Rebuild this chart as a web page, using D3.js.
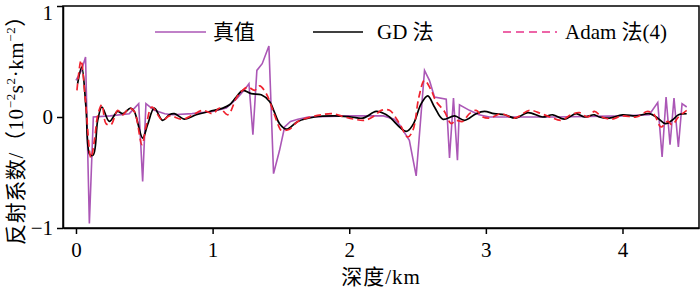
<!DOCTYPE html>
<html>
<head>
<meta charset="utf-8">
<script src="https://cdn.jsdelivr.net/npm/d3@7"></script>
<style>
  body { margin: 0; background: #fff; }
  svg text { font-family: "Liberation Serif", "Noto Sans CJK SC", serif; }
</style>
</head>
<body>
<div id="chart"></div>
<script>
// ---- data (depth in km, reflectivity) ----
const trueDepth = [0.0, 0.04, 0.07, 0.098, 0.127, 0.25, 0.39, 0.459, 0.488, 0.512, 0.573, 0.65, 0.707,
    0.85, 1.0, 1.1, 1.18, 1.23, 1.266, 1.295, 1.324, 1.363, 1.412, 1.446, 1.49, 1.527, 1.57, 1.624, 1.7,
    2.0, 2.25, 2.33, 2.368, 2.44, 2.49, 2.551, 2.587, 2.624, 2.71, 2.734, 2.763, 2.792, 2.807, 2.88, 2.95,
    3.026, 3.5, 4.0, 4.196, 4.258, 4.29, 4.319, 4.348, 4.377, 4.409, 4.436, 4.47];
const trueVal = [0.33, 0.42, 0.54, -0.96, 0.0, 0.01, 0.03, 0.12, -0.58, 0.12, 0.06, 0.03, 0.02,
    0.03, 0.05, 0.08, 0.17, 0.24, 0.30, -0.16, 0.42, 0.48, 0.64, -0.51, -0.30, -0.09, -0.04, -0.02, 0.0,
    0.01, 0.01, -0.02, -0.07, -0.21, -0.53, 0.42, 0.33, 0.18, 0.16, -0.37, 0.17, -0.39, 0.11, 0.06, 0.02,
    0.0, 0.0, 0.01, 0.02, 0.13, -0.36, 0.18, -0.25, 0.17, -0.27, 0.12, 0.09];

const gdDepth = [0.012, 0.042, 0.073, 0.102, 0.127, 0.159, 0.19, 0.244, 0.305, 0.342, 0.40, 0.427, 0.488,
    0.524, 0.573, 0.634, 0.683, 0.72, 0.795, 0.88, 0.978, 1.075, 1.124, 1.173, 1.222, 1.283, 1.356, 1.417,
    1.45, 1.49, 1.54, 1.624, 1.746, 1.893, 2.015, 2.10, 2.197, 2.258, 2.295, 2.417, 2.466, 2.527, 2.575,
    2.624, 2.685, 2.771, 2.844, 2.929, 2.99, 3.06, 3.136, 3.22, 3.307, 3.416, 3.49, 3.575, 3.66, 3.72,
    3.794, 3.83, 3.904, 4.0, 4.1, 4.197, 4.258, 4.314, 4.363, 4.41, 4.47];
const gdVal = [0.30, 0.45, 0.09, -0.34, -0.34, -0.03, 0.09, -0.04, 0.05, 0.03, 0.08, 0.05, -0.19,
    -0.07, 0.08, -0.03, 0.02, 0.03, -0.02, 0.02, 0.05, 0.08, 0.11, 0.18, 0.24, 0.21, 0.20, 0.14,
    0.05, -0.06, -0.11, -0.04, 0.0, 0.01, 0.0, -0.01, 0.05, 0.03, 0.0, -0.13, -0.07, 0.12, 0.19,
    0.09, -0.02, 0.01, -0.03, 0.03, 0.05, 0.03, 0.02, -0.01, 0.04, 0.0, 0.02, -0.02, 0.03, 0.0,
    0.02, 0.0, -0.01, 0.02, 0.01, 0.03, -0.01, -0.06, -0.03, 0.02, 0.03];

const adamDepth = [0.007, 0.037, 0.069, 0.11, 0.135, 0.16, 0.19, 0.22, 0.256, 0.305, 0.342, 0.39, 0.427,
    0.483, 0.512, 0.556, 0.634, 0.683, 0.78, 0.856, 0.929, 1.002, 1.051, 1.112, 1.173, 1.21, 1.258, 1.307,
    1.344, 1.393, 1.441, 1.49, 1.503, 1.563, 1.624, 1.72, 1.795, 1.88, 1.966, 2.039, 2.112, 2.185, 2.234,
    2.295, 2.368, 2.429, 2.466, 2.51, 2.551, 2.60, 2.636, 2.697, 2.746, 2.78, 2.83, 2.88, 2.929, 2.978,
    3.03, 3.112, 3.209, 3.319, 3.404, 3.47, 3.551, 3.624, 3.685, 3.745, 3.794, 3.85, 3.917, 4.0, 4.1,
    4.185, 4.233, 4.282, 4.331, 4.363, 4.41, 4.47];
const adamVal = [0.24, 0.51, 0.15, -0.37, -0.21, 0.02, 0.11, -0.06, -0.07, 0.06, 0.02, 0.08, 0.05,
    -0.25, -0.09, 0.09, -0.03, 0.01, -0.02, 0.02, 0.06, 0.03, 0.08, 0.02, 0.17, 0.23, 0.27, 0.24,
    0.28, 0.21, 0.06, -0.10, -0.12, -0.11, -0.04, 0.0, 0.02, 0.03, 0.0, -0.02, -0.03, 0.01, 0.06,
    0.06, -0.06, -0.18, -0.12, 0.18, 0.33, 0.24, 0.14, 0.05, -0.06, -0.03, -0.04, 0.03, 0.06, 0.0,
    -0.01, 0.03, -0.01, 0.06, 0.03, 0.0, -0.03, 0.02, 0.04, 0.0, 0.05, 0.0, -0.02, 0.01, 0.0,
    0.05, 0.02, -0.09, -0.04, -0.07, 0.0, 0.06];

const xTicks = [0, 1, 2, 3, 4];
const yTicks = [-1, 0, 1];
const seriesNames = ["真值", "GD 法", "Adam 法(4)"];

// ---- layout ----
const width = 700, height = 288;
const margin = {top: 6, right: 1, bottom: 60, left: 63};
const innerW = width - margin.left - margin.right;
const innerH = height - margin.top - margin.bottom;
const serif = '"Liberation Serif", "Noto Sans CJK SC", serif';

const svg = d3.select("#chart").append("svg")
    .attr("width", width)
    .attr("height", height)
    .attr("font-family", serif);

const g = svg.append("g")
    .attr("transform", `translate(${margin.left},${margin.top})`);

const x = d3.scaleLinear().domain([-0.095, 4.56]).range([0, innerW]);
const y = d3.scaleLinear().domain([-1, 1]).range([innerH, 0]);

// axes
const xAxis = g.append("g")
    .attr("transform", `translate(0,${innerH})`)
    .call(d3.axisBottom(x).tickValues(xTicks).tickSize(6).tickSizeOuter(0).tickPadding(8).tickFormat(d3.format("d")));
const yAxis = g.append("g")
    .call(d3.axisLeft(y).tickValues(yTicks).tickSize(6).tickSizeOuter(0).tickPadding(4).tickFormat(d3.format("d")));

[xAxis, yAxis].forEach(a => {
    a.attr("font-family", serif);
    a.selectAll("path, line").attr("stroke", "#000").attr("stroke-width", 1.5);
    a.selectAll("text").attr("font-size", 21).attr("fill", "#000");
});
// top label sits a bit lower so it stays inside the picture
yAxis.selectAll(".tick text").filter(d => d === 1).attr("dy", "0.62em");

// frame (top + right)
g.append("rect")
    .attr("x", 0).attr("y", 0)
    .attr("width", innerW).attr("height", innerH)
    .attr("fill", "none").attr("stroke", "#000").attr("stroke-width", 1.5);

// lines
g.append("clipPath").attr("id", "clip")
    .append("rect").attr("width", innerW).attr("height", innerH);

const plot = g.append("g").attr("clip-path", "url(#clip)");

const lineLinear = d3.line().x(d => x(d[0])).y(d => y(d[1]));
const lineSmooth = d3.line().x(d => x(d[0])).y(d => y(d[1])).curve(d3.curveCatmullRom.alpha(0.5));

const truePts = d3.zip(trueDepth, trueVal);
const gdPts = d3.zip(gdDepth, gdVal);
const adamPts = d3.zip(adamDepth, adamVal);

const purple = "#ab57b6", red = "#f0222e", pink = "#e8338a";

plot.append("path").datum(truePts)
    .attr("d", lineLinear).attr("fill", "none")
    .attr("stroke", purple).attr("stroke-width", 1.6);
plot.append("path").datum(gdPts)
    .attr("d", lineSmooth).attr("fill", "none")
    .attr("stroke", "#000").attr("stroke-width", 1.7);
plot.append("path").datum(adamPts)
    .attr("d", lineSmooth).attr("fill", "none")
    .attr("stroke", red).attr("stroke-width", 1.7)
    .attr("stroke-dasharray", "7,4");

// legend
const legendItems = [
    {name: seriesNames[0], x1: 155, x2: 206, tx: 213, color: purple, dash: null},
    {name: seriesNames[1], x1: 313, x2: 363, tx: 377, color: "#000", dash: null},
    {name: seriesNames[2], x1: 503, x2: 557, tx: 565, color: pink, dash: "8,5"}
];
const legend = svg.append("g").attr("class", "legend");
legendItems.forEach(it => {
    legend.append("line")
        .attr("x1", it.x1).attr("x2", it.x2)
        .attr("y1", 32).attr("y2", 32)
        .attr("stroke", it.color).attr("stroke-width", 1.6)
        .attr("stroke-dasharray", it.dash);
    legend.append("text")
        .attr("x", it.tx).attr("y", 39)
        .attr("font-size", 21)
        .text(it.name);
});

// axis titles
svg.append("text")
    .attr("x", margin.left + innerW / 2)
    .attr("y", 284)
    .attr("text-anchor", "middle")
    .attr("font-size", 21)
    .attr("letter-spacing", 1)
    .text("深度/km");

const yLabel = svg.append("text")
    .attr("transform", `translate(23,125) rotate(-90)`)
    .attr("text-anchor", "middle")
    .attr("font-size", 21)
    .attr("letter-spacing", 0.6);
yLabel.append("tspan").text("反射系数/（10");
yLabel.append("tspan").attr("dy", -8).attr("font-size", 13).text("−2");
yLabel.append("tspan").attr("dy", 8).text("s");
yLabel.append("tspan").attr("dy", -8).attr("font-size", 13).text("2");
yLabel.append("tspan").attr("dy", 8).text("·km");
yLabel.append("tspan").attr("dy", -8).attr("font-size", 13).text("−2");
yLabel.append("tspan").attr("dy", 8).text("）");
</script>
</body>
</html>
